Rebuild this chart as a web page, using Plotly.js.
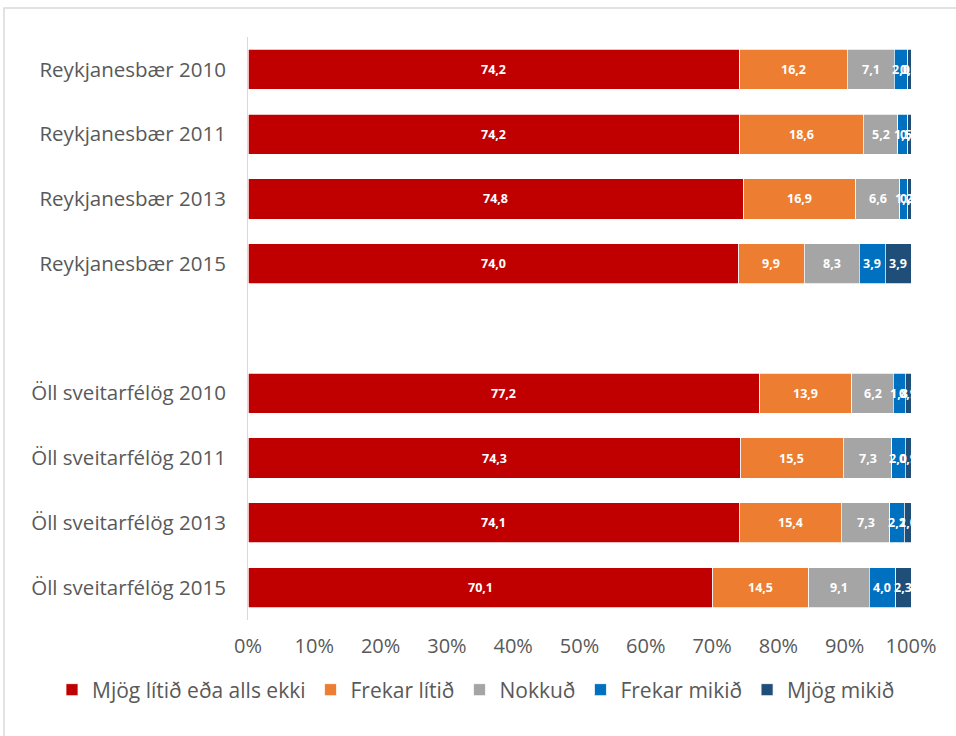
<!DOCTYPE html>
<html><head><meta charset="utf-8">
<script src="https://cdn.plot.ly/plotly-3.0.1.min.js"></script>
<style>html,body{margin:0;padding:0;background:#fff}#c{width:956px;height:736px}</style>
</head><body><div id="c"></div>
<script>
const categories = ["Reykjanesbær 2010","Reykjanesbær 2011","Reykjanesbær 2013","Reykjanesbær 2015","Öll sveitarfélög 2010","Öll sveitarfélög 2011","Öll sveitarfélög 2013","Öll sveitarfélög 2015"];
const positions = [0,1,2,3,5,6,7,8];
const seriesNames = ["Mjög lítið eða alls ekki","Frekar lítið","Nokkuð","Frekar mikið","Mjög mikið"];
const mjogLitid = [74.2,74.2,74.8,74.0,77.2,74.3,74.1,70.1];
const frekarLitid = [16.2,18.6,16.9,9.9,13.9,15.5,15.4,14.5];
const nokkud = [7.1,5.2,6.6,8.3,6.2,7.3,7.3,9.1];
const frekarMikid = [2.0,1.5,1.2,3.9,1.8,2.0,2.2,4.0];
const mjogMikid = [0.5,0.5,0.5,3.9,0.9,0.9,1.0,2.3];
const colors = ["#C00000","#ED7D31","#A5A5A5","#0070C0","#1F4E79"];
const allSeries = [mjogLitid,frekarLitid,nokkud,frekarMikid,mjogMikid];
const font = "'Open Sans', 'Noto Sans', sans-serif";
const traces = allSeries.map((vals,i)=>({
  type:'bar', orientation:'h', name:seriesNames[i], x:vals, y:positions,
  marker:{color:colors[i], line:{color:'#fff', width:0.75}},
  width:0.62, textposition:'none', hoverinfo:'x+name'
}));
// value labels centred in each segment, positioned via data coordinates
const annotations = [];
const cum = positions.map(()=>0);
allSeries.forEach(vals=>{
  vals.forEach((v,j)=>{
    annotations.push({x:cum[j]+v/2, y:positions[j], xref:'x', yref:'y',
      text:v.toFixed(1).replace('.',','), showarrow:false,
      font:{family:font, size:12.5, color:'#fff', weight:'bold'}});
    cum[j]+=v;
  });
});
const L=248, R=911, T=37, B=620;
const W=R-L, H=B-T;
const layout = {
  width:956, height:736,
  margin:{l:L, r:956-R, t:T, b:736-B, autoexpand:false},
  barmode:'stack', showlegend:true,
  paper_bgcolor:'#fff', plot_bgcolor:'#fff',
  font:{family:font, color:'#595959', size:18},
  xaxis:{range:[0,100], dtick:10, ticksuffix:'%', showgrid:false, zeroline:false,
    showline:false, ticks:'', tickfont:{size:20, color:'#595959'}, ticklabelstandoff:12, fixedrange:true},
  yaxis:{range:[8.5,-0.5], tickvals:positions, ticktext:categories, showgrid:false, zeroline:false,
    showline:true, linecolor:'#D9D9D9', linewidth:1, ticks:'', ticklabelstandoff:17,
    tickfont:{size:20.5, color:'#595959'}, fixedrange:true},
  legend:{orientation:'h', xref:'paper', yref:'paper', x:(52-L)/W, xanchor:'left',
    y:-(690-B)/H, yanchor:'middle', font:{size:21, color:'#595959'}, itemwidth:30,
    traceorder:'normal'},
  annotations: annotations,
  shapes:[{type:'rect', xref:'paper', yref:'paper', layer:'below',
    x0:(4-L)/W, x1:(960-L)/W, y0:(B-8)/H, y1:(B-740)/H,
    line:{color:'#D9D9D9', width:1.5}, fillcolor:'rgba(0,0,0,0)'}]
};
Plotly.newPlot('c', traces, layout, {displayModeBar:false, staticPlot:true});
</script>
</body></html>
